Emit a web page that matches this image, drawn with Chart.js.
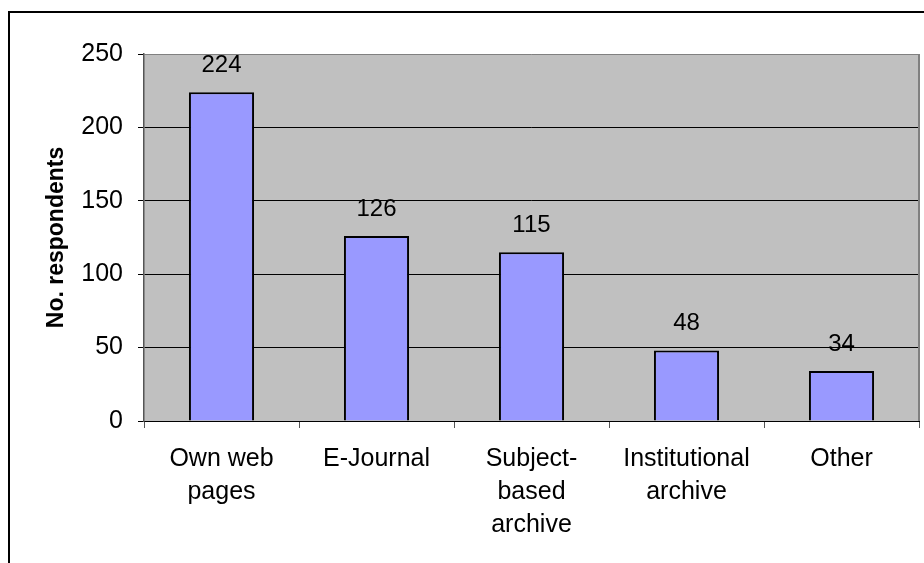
<!DOCTYPE html>
<html>
<head>
<meta charset="utf-8">
<title>Respondents</title>
<script src="https://cdn.jsdelivr.net/npm/chart.js@4"></script>
<style>
  html, body { margin: 0; padding: 0; background: #fff; overflow: hidden; }
  canvas { display: block; }
</style>
</head>
<body>
<canvas id="chart" width="924" height="563"></canvas>
<script>
// categories (multi-line labels) and counts
let categories = [["Own web", "pages"], "E-Journal", ["Subject-", "based", "archive"], ["Institutional", "archive"], "Other"];
let respondents = [224, 126, 115, 48, 34];
let yTicks = [0, 50, 100, 150, 200, 250];
let yTitle = "No. respondents";

let fontFamily = "'Liberation Sans', Arial, sans-serif";

// grey plot background + outer frame
let backdrop = {
    id: "backdrop",
    beforeDraw: function(chart){
        let ctx = chart.ctx;
        let a = chart.chartArea;
        ctx.save();
        ctx.fillStyle = "#fff";
        ctx.fillRect(0, 0, chart.width, chart.height);
        ctx.strokeStyle = "#000";
        ctx.lineWidth = 2;
        ctx.strokeRect(9, 12, 2000, 2000);
        ctx.fillStyle = "#C0C0C0";
        ctx.fillRect(a.left, a.top, a.right - a.left, a.bottom - a.top);
        ctx.restore();
    },
    afterDatasetsDraw: function(chart){
        let ctx = chart.ctx;
        let a = chart.chartArea;
        ctx.save();
        // right edge of plot
        ctx.strokeStyle = "#808080";
        ctx.lineWidth = 2;
        ctx.beginPath();
        ctx.moveTo(a.right, a.top);
        ctx.lineTo(a.right, a.bottom);
        ctx.stroke();
        // value labels above the bars
        let meta = chart.getDatasetMeta(0);
        ctx.fillStyle = "#000";
        ctx.font = "24px " + fontFamily;
        ctx.textAlign = "center";
        ctx.textBaseline = "middle";
        meta.data.forEach(function(bar, i){
            ctx.fillText(respondents[i], bar.x, bar.y - 27);
        });
        ctx.restore();
    }
};

let ctx = document.getElementById("chart");
let chart = new Chart(ctx, {
    type: "bar",
    data: {
        labels: categories,
        datasets: [{
            data: respondents,
            backgroundColor: "#9999FF",
            borderColor: "#000",
            borderWidth: 2,
            barPercentage: 0.42,
            categoryPercentage: 1
        }]
    },
    options: {
        responsive: false,
        animation: false,
        layout: { padding: { top: 54, right: 5, left: 0, bottom: 0 } },
        plugins: {
            legend: { display: false },
            tooltip: { enabled: false }
        },
        scales: {
            x: {
                afterFit: function(scale){ scale.height = 142; },
                grid: {
                    drawOnChartArea: false,
                    drawTicks: true,
                    tickLength: 7,
                    tickColor: "#555",
                    offset: true
                },
                border: { color: "#000", width: 1 },
                ticks: {
                    color: "#000",
                    padding: 14,
                    maxRotation: 0,
                    autoSkip: false,
                    font: { family: fontFamily, size: 25, lineHeight: 1.33 }
                }
            },
            y: {
                min: 0,
                max: 250,
                afterFit: function(scale){ scale.width = 144; },
                afterBuildTicks: function(scale){
                    scale.ticks = yTicks.map(function(v){ return { value: v }; });
                },
                grid: {
                    color: function(c){ return c.tick && c.tick.value === 250 ? "#808080" : "#000"; },
                    tickColor: "#000",
                    tickLength: 6,
                    lineWidth: 1
                },
                border: { color: "#555", width: 1.5 },
                ticks: {
                    color: "#000",
                    padding: 15,
                    font: { family: fontFamily, size: 25 }
                },
                title: {
                    display: true,
                    text: yTitle,
                    color: "#000",
                    padding: { top: 43, bottom: 0 },
                    font: { family: fontFamily, size: 23, weight: "bold" }
                }
            }
        }
    },
    plugins: [backdrop]
});
</script>
</body>
</html>
